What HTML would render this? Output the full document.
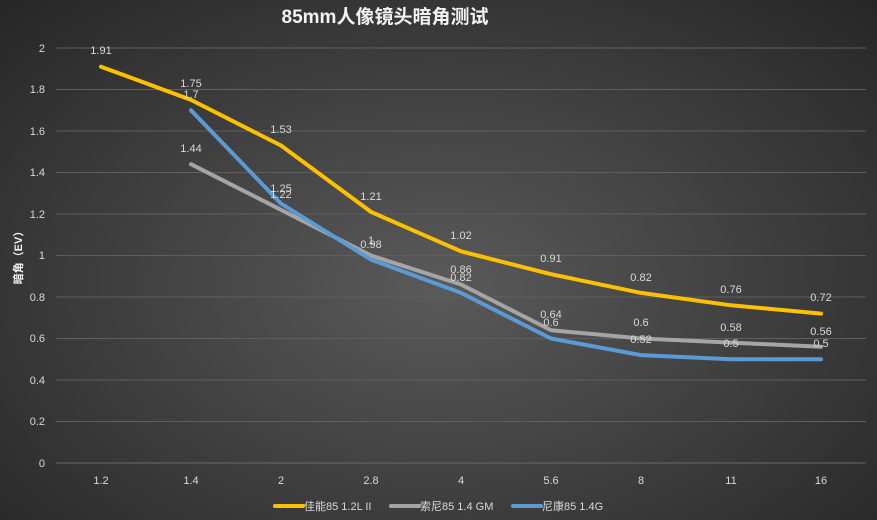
<!DOCTYPE html>
<html><head><meta charset="utf-8"><style>
html,body{margin:0;padding:0;width:877px;height:520px;overflow:hidden}
body{background:radial-gradient(ellipse at 50% 55%,#5a5a5a 0%,#404040 50%,#262626 100%);font-family:"Liberation Sans","Noto Sans CJK SC",sans-serif}
</style></head><body>
<svg width="877" height="520" xmlns="http://www.w3.org/2000/svg" style="position:absolute;left:0;top:0">
<g stroke="#5e5e5e" stroke-width="1">
<line x1="56" x2="866" y1="48" y2="48"/><line x1="56" x2="866" y1="89.5" y2="89.5"/><line x1="56" x2="866" y1="131" y2="131"/><line x1="56" x2="866" y1="172.5" y2="172.5"/><line x1="56" x2="866" y1="214" y2="214"/><line x1="56" x2="866" y1="255.5" y2="255.5"/><line x1="56" x2="866" y1="297" y2="297"/><line x1="56" x2="866" y1="338.5" y2="338.5"/><line x1="56" x2="866" y1="380" y2="380"/><line x1="56" x2="866" y1="421.5" y2="421.5"/><line x1="56" x2="866" y1="463" y2="463" stroke="#6a6a6a"/>
</g>
<g fill="#d9d9d9" font-size="11" text-anchor="end" font-family="Liberation Sans,sans-serif">
<text x="45" y="52">2</text><text x="45" y="93">1.8</text><text x="45" y="135">1.6</text><text x="45" y="176">1.4</text><text x="45" y="218">1.2</text><text x="45" y="259">1</text><text x="45" y="301">0.8</text><text x="45" y="342">0.6</text><text x="45" y="384">0.4</text><text x="45" y="425">0.2</text><text x="45" y="467">0</text>
</g>
<g fill="#d9d9d9" font-size="11" text-anchor="middle" font-family="Liberation Sans,sans-serif">
<text x="101" y="484">1.2</text><text x="191" y="484">1.4</text><text x="281" y="484">2</text><text x="371" y="484">2.8</text><text x="461" y="484">4</text><text x="551" y="484">5.6</text><text x="641" y="484">8</text><text x="731" y="484">11</text><text x="821" y="484">16</text>
</g>
<text x="385" y="23" fill="#f2f2f2" font-size="19" font-weight="bold" text-anchor="middle" font-family="Liberation Sans,'Noto Sans CJK SC',sans-serif">85mm人像镜头暗角测试</text>
<text transform="translate(22,255) rotate(-90)" fill="#f2f2f2" font-size="11" font-weight="bold" text-anchor="middle" font-family="Liberation Sans,'Noto Sans CJK SC',sans-serif">暗角（EV）</text>
<g fill="none" stroke-width="4" stroke-linejoin="round" stroke-linecap="round">
<polyline stroke="#a5a5a5" points="191,164.2 281,209.8 371,255.5 461,284.5 551,330.2 641,338.5 731,342.6 821,346.8"/>
<polyline stroke="#5b9bd5" points="191,110.3 281,203.6 371,259.6 461,292.9 551,338.5 641,355.1 731,359.3 821,359.3"/>
<polyline stroke="#ffc000" points="101,66.7 191,99.9 281,145.5 371,211.9 461,251.3 551,274.2 641,292.9 731,305.3 821,313.6"/>
</g>
<g fill="#d9d9d9" font-size="11" text-anchor="middle" font-family="Liberation Sans,sans-serif">
<text x="101" y="54">1.91</text><text x="191" y="87">1.75</text><text x="281" y="133">1.53</text><text x="371" y="200">1.21</text><text x="461" y="239">1.02</text><text x="551" y="262">0.91</text><text x="641" y="281">0.82</text><text x="731" y="293">0.76</text><text x="821" y="301">0.72</text>
<text x="191" y="152">1.44</text><text x="281" y="198">1.22</text><text x="371" y="244">1</text><text x="461" y="273">0.86</text><text x="551" y="318">0.64</text><text x="641" y="326">0.6</text><text x="731" y="331">0.58</text><text x="821" y="335">0.56</text>
<text x="191" y="98">1.7</text><text x="281" y="192">1.25</text><text x="371" y="248">0.98</text><text x="461" y="281">0.82</text><text x="551" y="326">0.6</text><text x="641" y="343">0.52</text><text x="731" y="347">0.5</text><text x="821" y="347">0.5</text>
</g>
<g stroke-width="4" stroke-linecap="round">
<line x1="275" x2="303" y1="506" y2="506" stroke="#ffc000"/>
<line x1="391" x2="419" y1="506" y2="506" stroke="#a5a5a5"/>
<line x1="513" x2="541" y1="506" y2="506" stroke="#5b9bd5"/>
</g>
<g fill="#d9d9d9" font-size="11" font-family="Liberation Sans,'Noto Sans CJK SC',sans-serif">
<text x="304" y="510">佳能85 1.2L II</text><text x="420" y="510">索尼85 1.4 GM</text><text x="542" y="510">尼康85 1.4G</text>
</g>
</svg>
</body></html>
